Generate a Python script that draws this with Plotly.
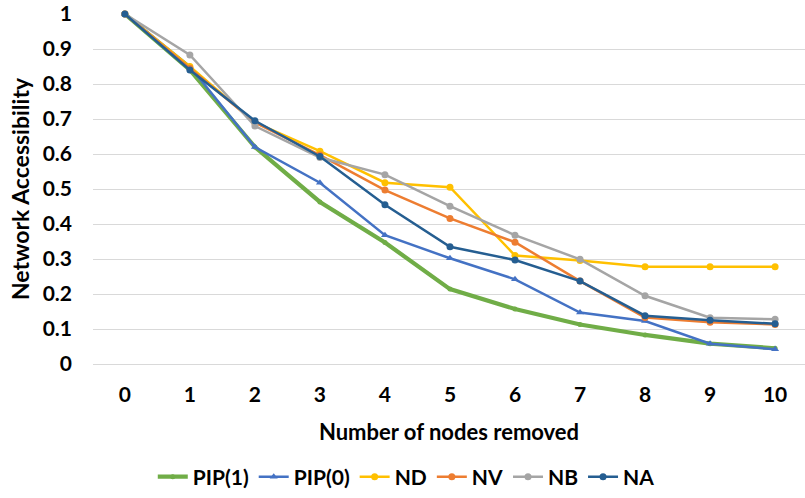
import plotly.graph_objects as go

# Nodes removed (x categories)
nodes_removed = [0, 1, 2, 3, 4, 5, 6, 7, 8, 9, 10]

# Network accessibility per removal strategy
pip1 = [1.0, 0.840, 0.620, 0.463, 0.347, 0.214, 0.157, 0.113, 0.083, 0.058, 0.045]
pip0 = [1.0, 0.850, 0.620, 0.518, 0.368, 0.302, 0.242, 0.147, 0.123, 0.058, 0.042]
nd = [1.0, 0.850, 0.690, 0.608, 0.518, 0.505, 0.310, 0.296, 0.278, 0.278, 0.278]
nv = [1.0, 0.845, 0.690, 0.597, 0.497, 0.416, 0.348, 0.237, 0.133, 0.119, 0.113]
nb = [1.0, 0.883, 0.680, 0.590, 0.541, 0.451, 0.368, 0.299, 0.195, 0.132, 0.128]
na = [1.0, 0.840, 0.695, 0.593, 0.455, 0.335, 0.297, 0.237, 0.138, 0.125, 0.115]

y_ticks = [0, 0.1, 0.2, 0.3, 0.4, 0.5, 0.6, 0.7, 0.8, 0.9, 1]
y_tick_text = ["0", "0.1", "0.2", "0.3", "0.4", "0.5", "0.6", "0.7", "0.8", "0.9", "1"]

FONT = "Lato"

series = [
    ("PIP(1)", pip1, "#70AD47", 4.2, "circle", 5),
    ("PIP(0)", pip0, "#4472C4", 2.5, "triangle-up", 7),
    ("ND", nd, "#FFC000", 2.5, "circle", 7),
    ("NV", nv, "#ED7D31", 2.5, "circle", 7),
    ("NB", nb, "#A5A5A5", 2.5, "circle", 7),
    ("NA", na, "#255E91", 2.5, "circle", 7),
]

fig = go.Figure()
for name, vals, color, width, symbol, size in series:
    fig.add_trace(go.Scatter(
        x=nodes_removed, y=vals, name=name, mode="lines+markers",
        line=dict(color=color, width=width),
        marker=dict(color=color, symbol=symbol, size=size),
        cliponaxis=False,
    ))

fig.update_layout(
    width=805, height=498,
    margin=dict(l=93, r=0, t=14, b=134),
    paper_bgcolor="white", plot_bgcolor="white",
    font=dict(family=FONT, color="black", size=21),
    showlegend=True,
    legend=dict(
        orientation="h", x=0.44, xanchor="center", y=-0.323, yanchor="middle",
        font=dict(family=FONT, size=21, weight="bold"),
        itemwidth=30, tracegroupgap=0,
    ),
    xaxis=dict(
        range=[-0.49, 10.46], tickmode="array", tickvals=nodes_removed,
        ticktext=[str(v) for v in nodes_removed],
        showgrid=False, zeroline=False, showline=False, ticks="",
        tickfont=dict(family=FONT, size=21, weight="bold"),
        ticklabelstandoff=16,
        title=dict(text="Number of nodes removed", standoff=19,
                   font=dict(family=FONT, size=22, weight="bold")),
    ),
    yaxis=dict(
        range=[0, 1], tickmode="array", tickvals=y_ticks, ticktext=y_tick_text,
        showgrid=True, gridcolor="#D9D9D9", gridwidth=1,
        zeroline=True, zerolinecolor="#D9D9D9", zerolinewidth=1,
        showline=False, ticks="",
        tickfont=dict(family=FONT, size=21, weight="bold"),
        ticklabelstandoff=20,
        title=dict(text="Network Accessibility", standoff=6,
                   font=dict(family=FONT, size=23, weight="bold")),
    ),
)

fig.write_html("out.html")
